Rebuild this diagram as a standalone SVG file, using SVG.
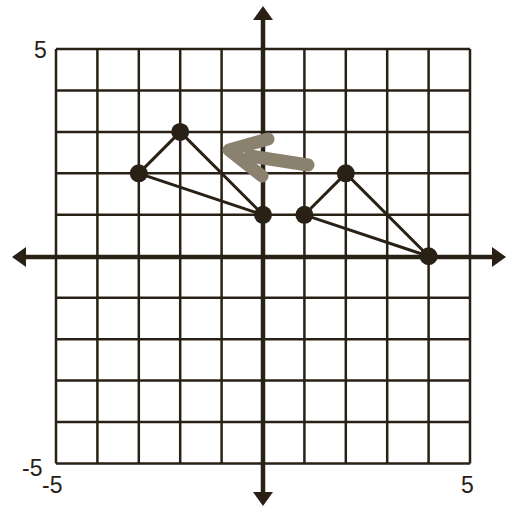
<svg xmlns="http://www.w3.org/2000/svg" width="510" height="508" viewBox="0 0 510 508">
<defs>
<style>
.grid{stroke:#2a2116;stroke-width:2.5;fill:none}
.axis{stroke:#2a2116;stroke-width:4.5;fill:none}
.edge{stroke:#2a2116;stroke-width:3;fill:none;stroke-linejoin:round}
.dot{fill:#2a2116}
.lbl{font-family:"Liberation Sans",Arial,sans-serif;font-size:23px;fill:#2a2116}
.mark{stroke:#8a826e;stroke-width:13;fill:none;stroke-linecap:round;stroke-linejoin:round}
</style>
</defs>
<rect width="510" height="508" fill="#ffffff"/>
<g id="grid">
<path class="grid" d="M56 49V463.5M97.4 49V463.5M138.8 49V463.5M180.2 49V463.5M221.6 49V463.5M304.4 49V463.5M345.8 49V463.5M387.2 49V463.5M428.6 49V463.5M470 49V463.5"/>
<path class="grid" d="M56 49H470M56 90.45H470M56 131.9H470M56 173.35H470M56 214.8H470M56 297.7H470M56 339.15H470M56 380.6H470M56 422.05H470M56 463.5H470"/>
</g>
<g id="axes">
<path class="axis" d="M263 18V494"/>
<polygon class="dot" points="263,6 253,20 273,20"/>
<polygon class="dot" points="263,506 253,492 273,492"/>
<path class="axis" d="M25 257H494"/>
<polygon class="dot" points="12,257 26,247 26,267"/>
<polygon class="dot" points="506,257 492,247 492,267"/>
</g>
<g id="mark">
<polyline class="mark" points="268,139 229,150 262,176"/>
<line class="mark" x1="250" y1="156" x2="308" y2="165"/>
</g>
<g id="connectors">
<polygon class="edge" points="138.8,173.35 180.2,131.9 263,214.8"/>
<polygon class="edge" points="304.4,214.8 345.8,173.35 428.6,256.25"/>
</g>
<g id="A"><circle class="dot" cx="138.8" cy="173.35" r="9"/></g>
<g id="B"><circle class="dot" cx="180.2" cy="131.9" r="9"/></g>
<g id="C"><circle class="dot" cx="263" cy="214.8" r="9"/></g>
<g id="D"><circle class="dot" cx="304.4" cy="214.8" r="9"/></g>
<g id="E"><circle class="dot" cx="345.8" cy="173.35" r="9"/></g>
<g id="F"><circle class="dot" cx="428.6" cy="256.25" r="9"/></g>
<g id="labels">
<text class="lbl" x="34" y="58">5</text>
<text class="lbl" x="22" y="476">-5</text>
<text class="lbl" x="42" y="493">-5</text>
<text class="lbl" x="461" y="493">5</text>
</g>
</svg>
